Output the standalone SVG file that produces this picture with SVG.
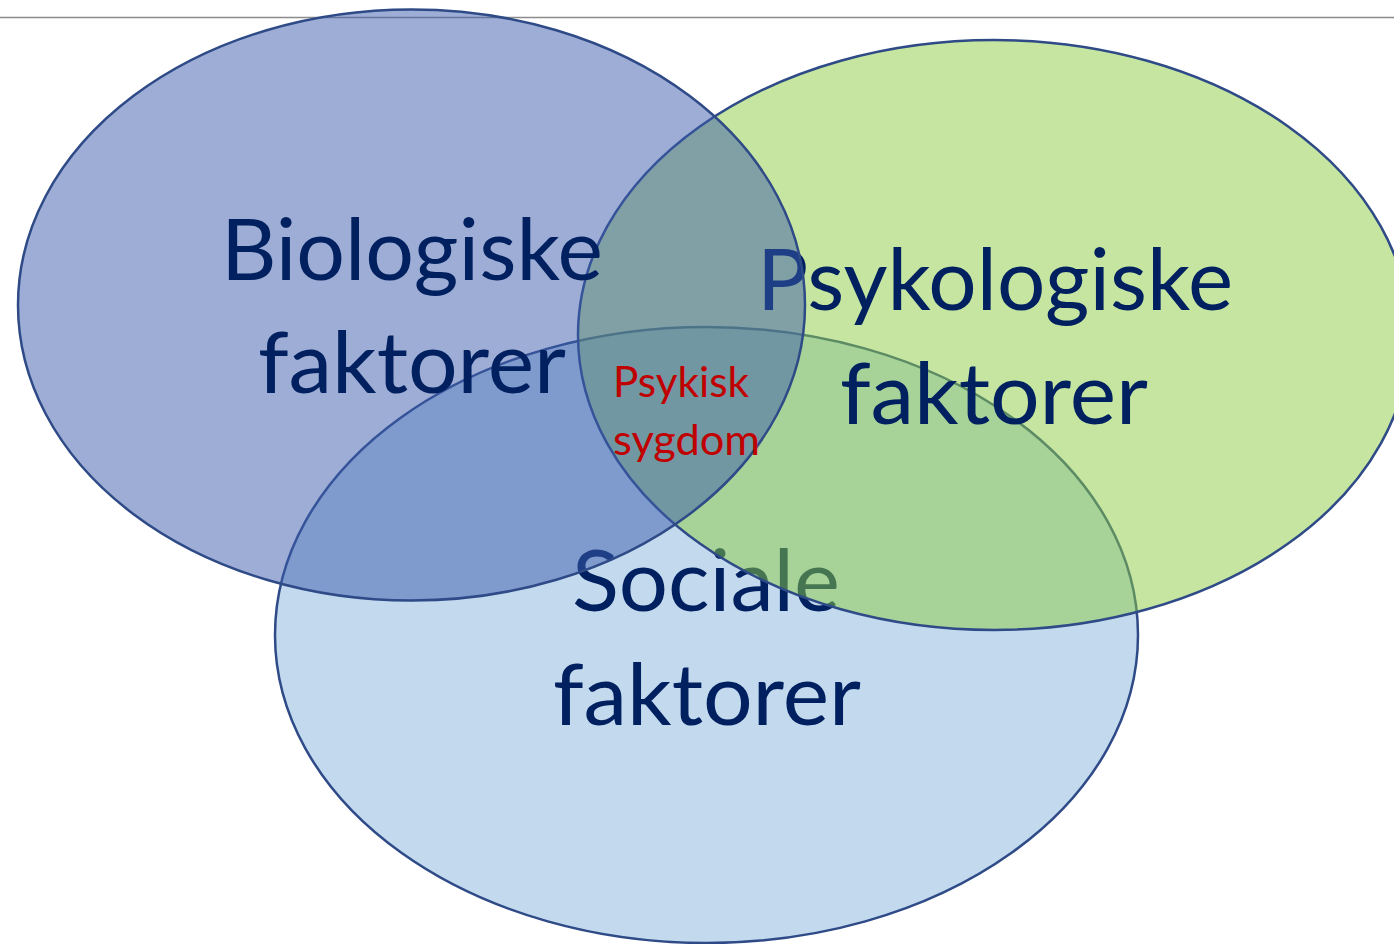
<svg xmlns="http://www.w3.org/2000/svg" width="1394" height="944" viewBox="0 0 1394 944">
<style>
.shape{stroke:#2E4A87;stroke-width:2.5}
.lbl{font-family:Lato,"Liberation Sans",sans-serif;font-size:85px;fill:#002060}
.center{font-family:Lato,"Liberation Sans",sans-serif;font-size:42px;fill:#C00000}
</style>
<rect width="1394" height="944" fill="#FFFFFF"/>
<line x1="0" y1="17.5" x2="1394" y2="17.5" stroke="#8C8C8C" stroke-width="1.5"/>
<g id="sociale">
<ellipse class="shape" cx="706.5" cy="635" rx="431.5" ry="308" fill="#C2D9EE"/>
<text class="lbl" x="572" y="611" textLength="268" lengthAdjust="spacingAndGlyphs">Sociale</text>
<text class="lbl" x="553" y="725" textLength="308" lengthAdjust="spacingAndGlyphs">faktorer</text>
</g>
<g id="psykologiske">
<ellipse class="shape" cx="994" cy="335" rx="416" ry="295" fill="#8BCB41" fill-opacity="0.5"/>
<text class="lbl" x="757" y="310" textLength="476" lengthAdjust="spacingAndGlyphs">Psykologiske</text>
<text class="lbl" x="840" y="424" textLength="308" lengthAdjust="spacingAndGlyphs">faktorer</text>
</g>
<g id="biologiske">
<ellipse class="shape" cx="411.5" cy="305" rx="393.5" ry="295.5" fill="#3B5BAB" fill-opacity="0.5"/>
<text class="lbl" x="221" y="280" textLength="382" lengthAdjust="spacingAndGlyphs">Biologiske</text>
<text class="lbl" x="258" y="393" textLength="308" lengthAdjust="spacingAndGlyphs">faktorer</text>
</g>
<g id="psykisk-sygdom">
<text class="center" x="613" y="397" textLength="136" lengthAdjust="spacingAndGlyphs">Psykisk</text>
<text class="center" x="613" y="455" textLength="147" lengthAdjust="spacingAndGlyphs">sygdom</text>
</g>
<g id="connectors"/>
</svg>
